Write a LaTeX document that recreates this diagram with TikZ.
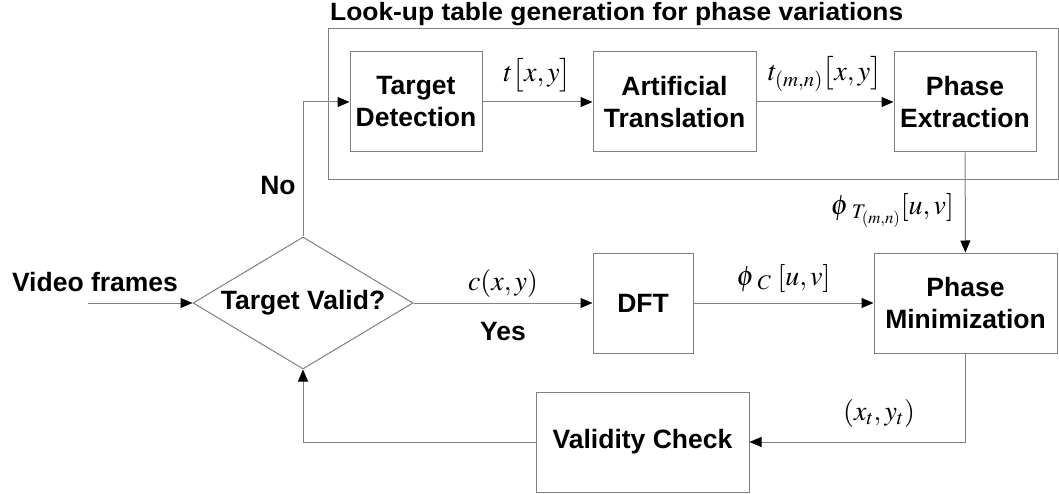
\documentclass[tikz,border=0pt]{standalone}
\usepackage{mathptmx}
\usepackage[no-math]{fontspec}
\setmainfont{Liberation Sans}
\usetikzlibrary{arrows.meta,shapes.geometric}

\begin{document}
\begin{tikzpicture}[x=1pt,y=-1pt,
  block/.style={draw=black!50, line width=1pt, align=center, inner sep=0pt,
    font=\bfseries\fontsize{26.5}{32}\selectfont},
  decision/.style={diamond, draw=black!50, line width=1pt, inner sep=0pt,
    minimum width=220pt, minimum height=132pt,
    font=\bfseries\fontsize{26.5}{32}\selectfont},
  arr/.style={draw=black!50, line width=1pt,
    -{Triangle[length=12pt,width=10pt,color=black]}},
  lbl/.style={font=\bfseries\fontsize{26.5}{32}\selectfont, inner sep=0pt},
  mlbl/.style={font=\fontsize{28}{30}\selectfont, inner sep=0pt}]
\useasboundingbox (0,0) rectangle (1059,494);

% look-up table group
\draw[draw=black!50, line width=1pt] (328,29) rectangle (1058,180);
\node[lbl, font=\bfseries\fontsize{25}{30}\selectfont, anchor=base west] (title) at (330,21)
  {\scalebox{1.055}[1]{Look-up table generation for phase variations}};

\node[block, minimum width=132pt, minimum height=100pt] (td) at (416,102)
  {Target\\Detection};
\node[block, minimum width=163pt, minimum height=100pt] (at) at (674.5,102)
  {Artificial\\Translation};
\node[block, minimum width=142pt, minimum height=100pt] (pe) at (965,102)
  {Phase\\Extraction};

% main line
\node[decision] (tv) at (303,303) {\makebox[0pt]{Target Valid?}};
\node[block, minimum width=100pt, minimum height=100pt] (dft) at (643,303) {DFT};
\node[block, minimum width=183pt, minimum height=100pt] (pm) at (965.5,303)
  {Phase\\Minimization};
\node[block, minimum width=213pt, minimum height=100pt] (vc) at (642.5,442)
  {Validity Check};

\coordinate (vf) at (88,303);
\node[lbl, anchor=base] (vflbl) at (95,291) {Video frames};
\draw[arr] (vf) -- (tv.west);

\draw[arr] (tv.north) |- (td.west);
\node[lbl] (no) at (278,186) {No};

\draw[arr] (td) -- (at) node[mlbl, midway, above=10pt] {$t\big[x,y\big]$};
\draw[arr] (at) -- (pe) node[mlbl, midway, above=10pt] {$t_{(m,n)}\big[x,y\big]$};
\draw[arr] (pe) -- (pm) node[mlbl, pos=0.58, left=11pt] {${\phi}\,_{T_{(m,n)}}[u,v]$};

\draw[arr] (tv.east) -- (dft.west)
  node[mlbl, midway, above=5pt] {$c(x,y)$}
  node[lbl, midway, below=19pt] {Yes};
\draw[arr] (dft) -- (pm) node[mlbl, midway, above=10pt] {${\phi}\,_{C}\;[u,v]$};

\draw[arr] (pm.south) |- (vc.east) node[mlbl, pos=0.7, above=14pt] {$(x_t,y_t)$};
\draw[arr] (vc.west) -| (tv.south);

\end{tikzpicture}
\end{document}
